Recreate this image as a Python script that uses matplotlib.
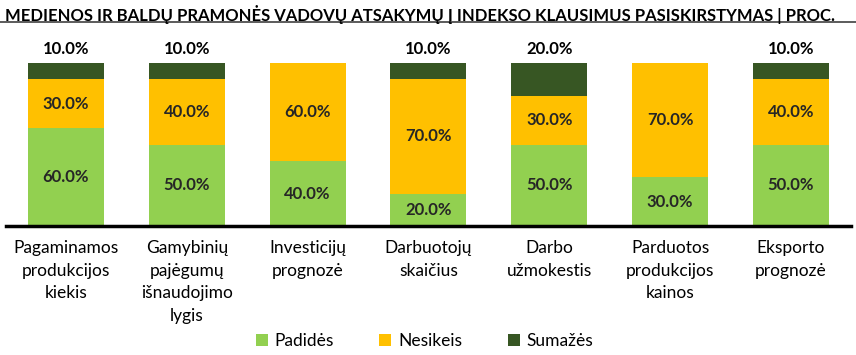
import numpy as np
import matplotlib.pyplot as plt
from matplotlib.lines import Line2D
from matplotlib.patches import Patch

plt.rcParams['font.family'] = ['Lato', 'DejaVu Sans']

categories = ["Pagaminamos\nprodukcijos\nkiekis", "Gamybinių\npajėgumų\nišnaudojimo\nlygis",
              "Investicijų\nprognozė", "Darbuotojų\nskaičius", "Darbo\nužmokestis",
              "Parduotos\nprodukcijos\nkainos", "Eksporto\nprognozė"]
padides = [60, 50, 40, 20, 50, 30, 50]
nesikeis = [30, 40, 60, 70, 30, 70, 40]
sumazes = [10, 10, 0, 10, 20, 0, 10]

series = [("Padidės", padides, "#92D050"),
          ("Nesikeis", nesikeis, "#FFC000"),
          ("Sumažės", sumazes, "#375623")]

fig = plt.figure(figsize=(8.56, 3.55), dpi=100)
ax = fig.add_axes([0.0065, 0.363, 0.988, 0.4595])

x = np.arange(len(categories))
bottom = np.zeros(len(categories))
for name, vals, color in series:
    vals = np.array(vals, dtype=float)
    ax.bar(x, vals, width=0.63, bottom=bottom, color=color, label=name, zorder=2)
    for xi, b, v in zip(x, bottom, vals):
        if v <= 0:
            continue
        if name == "Sumažės":
            ax.text(xi, b + v + 3.5, f"{v:.1f}%", ha="center", va="bottom",
                    fontsize=12, fontweight="bold", clip_on=False)
        else:
            ax.text(xi, b + v / 2, f"{v:.1f}%", ha="center", va="center",
                    fontsize=12, fontweight="bold", color="#262626")
    bottom += vals

ax.set_xlim(-0.5, len(categories) - 0.5)
ax.set_ylim(0, 100)
ax.set_yticks([])
ax.set_xticks(x)
ax.set_xticklabels(categories, fontsize=12.5, linespacing=1.5)
ax.tick_params(axis="x", length=0, pad=10)
for s in ["top", "right", "left"]:
    ax.spines[s].set_visible(False)
ax.spines["bottom"].set_linewidth(2.5)
ax.spines["bottom"].set_zorder(3)

fig.text(0.006, 0.985, "MEDIENOS IR BALDŲ PRAMONĖS VADOVŲ ATSAKYMŲ Į INDEKSO KLAUSIMUS PASISKIRSTYMAS | PROC.",
         ha="left", va="top", fontsize=12, fontweight="bold")
fig.add_artist(Line2D([0.0, 1.0], [0.937, 0.937], color="#404040", linewidth=1.2))

handles = [Patch(facecolor=c) for _, _, c in series]
fig.legend(handles, [n for n, _, _ in series], loc="center", bbox_to_anchor=(0.496, 0.04),
           ncol=3, frameon=False, fontsize=12.5, handlelength=0.7, handleheight=0.7,
           handletextpad=0.4, columnspacing=2.6)

fig.savefig("out.png", dpi=100)
